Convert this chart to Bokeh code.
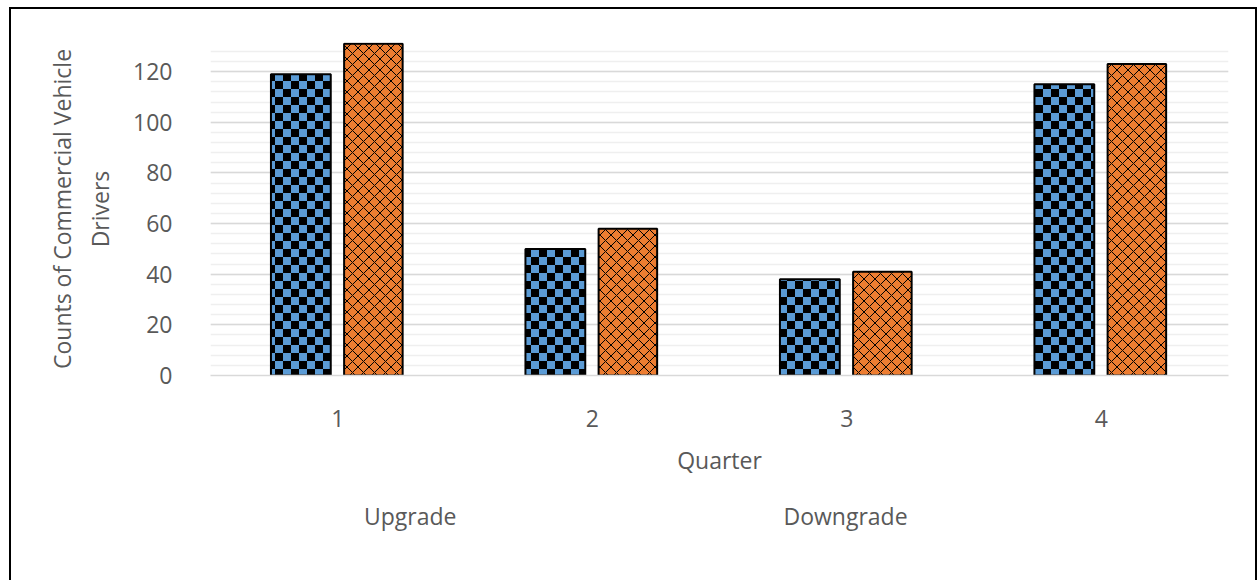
from bokeh.plotting import figure
from bokeh.layouts import column
from bokeh.models import (ColumnDataSource, FactorRange, Range1d, SingleIntervalTicker,
                          Legend, LegendItem, CanvasTexture)
from bokeh.core.properties import value
from bokeh.transform import dodge
from bokeh.embed import file_html
from bokeh.resources import INLINE

quarters = ["1", "2", "3", "4"]
upgrade = [119, 50, 38, 115]
downgrade = [131, 58, 41, 123]
series_names = ["Upgrade", "Downgrade"]

src = ColumnDataSource(dict(quarter=quarters, upgrade=upgrade, downgrade=downgrade))

FONT = "Open Sans"
TXT = "#595959"
FS = "23px"

x_range = FactorRange(*quarters, range_padding=0)

p = figure(width=1244, height=476, x_range=x_range,
           y_range=Range1d(0, 131.5), output_backend="svg", toolbar_location=None,
           min_border_left=199, min_border_right=27, min_border_top=33, min_border_bottom=110)
p.outline_line_color = None

checker = CanvasTexture(code="""
const s = 16;
ctx.canvas.width = s;
ctx.canvas.height = s;
ctx.setTransform(1, 0, 0, 1, 0, 0);
ctx.fillStyle = "#000000";
ctx.fillRect(0, 0, s/2, s/2);
ctx.fillRect(s/2, s/2, s/2, s/2);
""", repetition="repeat")

up_style = dict(fill_color="#5B9BD5", line_color="black", line_width=2,
                hatch_extra={"checker": checker}, hatch_pattern=value("checker"),
                hatch_scale=16, hatch_color="black")
dn_style = dict(fill_color="#ED7D31", line_color="black", line_width=2,
                hatch_pattern="diagonal_cross", hatch_scale=11, hatch_weight=1,
                hatch_color="black")

p.vbar(x=dodge("quarter", -0.145, range=x_range), top="upgrade", width=0.235, source=src,
       **up_style)
p.vbar(x=dodge("quarter", 0.14, range=x_range), top="downgrade", width=0.23, source=src,
       **dn_style)

p.yaxis.ticker = SingleIntervalTicker(interval=20, num_minor_ticks=5)
p.ygrid.ticker = p.yaxis.ticker
p.ygrid.grid_line_color = "#D9D9D9"
p.ygrid.grid_line_width = 1.5
p.ygrid.minor_grid_line_color = "#EFEFEF"
p.ygrid.minor_grid_line_width = 1.5
p.xgrid.grid_line_color = None

for ax in (p.xaxis[0], p.yaxis[0]):
    ax.major_tick_line_color = None
    ax.minor_tick_line_color = None
    ax.major_label_text_font = FONT
    ax.major_label_text_font_size = FS
    ax.major_label_text_color = TXT
    ax.axis_label_text_font = FONT
    ax.axis_label_text_font_size = FS
    ax.axis_label_text_color = TXT
    ax.axis_label_text_font_style = "normal"

p.yaxis.axis_line_color = None
p.yaxis.major_label_standoff = 32
p.yaxis.axis_label = "Counts of Commercial Vehicle\nDrivers"
p.yaxis.axis_label_standoff = 14

p.xaxis.axis_line_color = "#D9D9D9"
p.xaxis.axis_line_width = 1.5
p.xaxis.major_label_standoff = 28
p.xaxis.axis_label = "Quarter"
p.xaxis.axis_label_standoff = 14

# legend strip below the chart: swatch-only renderers with no data
empty = ColumnDataSource(dict(quarter=[], upgrade=[], downgrade=[]))
p2 = figure(width=1244, height=95, x_range=x_range, y_range=Range1d(0, 1),
            output_backend="svg", toolbar_location=None,
            x_axis_location=None, y_axis_location=None,
            min_border_left=0, min_border_right=0, min_border_top=0, min_border_bottom=0)
p2.outline_line_color = None
p2.grid.visible = False
g1 = p2.vbar(x=dodge("quarter", -0.145, range=x_range), top="upgrade", width=0.235,
             source=empty, **up_style)
g2 = p2.vbar(x=dodge("quarter", 0.14, range=x_range), top="downgrade", width=0.23,
             source=empty, **dn_style)

legend = Legend(items=[LegendItem(label=series_names[0], renderers=[g1]),
                       LegendItem(label=series_names[1], renderers=[g2])],
                orientation="horizontal", location=(127, 48), spacing=300,
                glyph_width=13, glyph_height=13, label_standoff=14,
                label_text_font=FONT, label_text_font_size=FS, label_text_color=TXT,
                background_fill_alpha=0, border_line_color=None, padding=5, margin=0)
p2.add_layout(legend, "center")

lay = column(p, p2, spacing=0)
lay.styles = {"border-top": "2px solid black", "border-left": "2px solid black",
              "border-right": "2px solid black", "margin-left": "9px", "margin-top": "7px",
              "background-color": "white"}

open("out.html", "w").write(file_html(lay, INLINE))
